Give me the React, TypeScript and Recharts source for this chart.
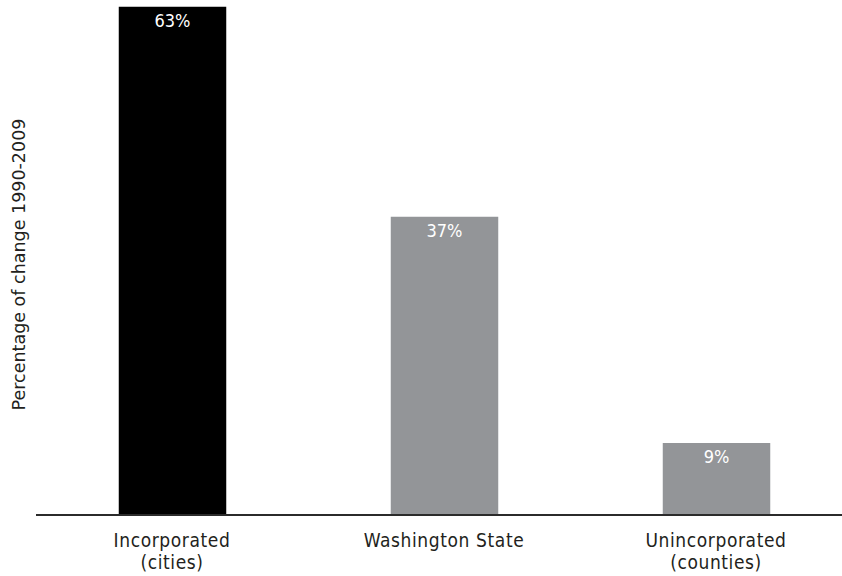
import React from "react";
import { BarChart, Bar, XAxis, YAxis, Cell, LabelList, Label } from "recharts";

// Population change by jurisdiction type, 1990-2009 (percent)
const categories = ["Incorporated\n(cities)", "Washington State", "Unincorporated\n(counties)"];
const changePct = [63, 37, 9];
const barColors = ["#000000", "#939598", "#939598"];
const yAxisTitle = "Percentage of change 1990-2009";

const data = categories.map((name, i) => ({ name, value: changePct[i] }));

const CONDENSED = "'DejaVu Sans Condensed', 'DejaVu Sans', sans-serif";
const TEXT_COLOR = "#231f20";

const CategoryTick = (props: any) => {
  const { x, y, payload } = props;
  const lines = String(payload.value).split("\n");
  return (
    <text
      x={x}
      y={y}
      textAnchor="middle"
      fill={TEXT_COLOR}
      fontFamily={CONDENSED}
      fontSize={19}
      letterSpacing={0.6}
    >
      {lines.map((line, i) => (
        <tspan key={i} x={x} dy={i === 0 ? 31.5 : 22}>
          {line}
        </tspan>
      ))}
    </text>
  );
};

const AxisTitle = (props: any) => {
  const vb = props.viewBox || { x: 0, y: 0, width: 0, height: 0 };
  const cx = vb.x + vb.width - 11;
  const cy = vb.y + vb.height / 2 + 4;
  return (
    <text
      transform={`translate(${cx}, ${cy}) rotate(-90)`}
      textAnchor="middle"
      fill={TEXT_COLOR}
      fontFamily="'DejaVu Sans', sans-serif"
      fontSize={17.5}
    >
      {yAxisTitle}
    </text>
  );
};

export default function App() {
  return (
    <div
      style={{
        position: "fixed",
        left: 0,
        top: 0,
        width: 842,
        height: 576,
        overflow: "hidden",
        background: "#ffffff",
      }}
    >
      <BarChart
        width={852}
        height={576}
        data={data}
        margin={{ top: 6, right: 0, bottom: 0, left: 0 }}
        barCategoryGap={0}
      >
        <YAxis
          width={36}
          domain={[0, 63]}
          axisLine={false}
          tickLine={false}
          tick={false}
        >
          <Label content={<AxisTitle />} />
        </YAxis>
        <XAxis
          dataKey="name"
          height={61}
          interval={0}
          tickLine={false}
          tickSize={0}
          tickMargin={0}
          axisLine={{ stroke: "#2b2b2b", strokeWidth: 2 }}
          tick={<CategoryTick />}
        />
        <Bar
          dataKey="value"
          barSize={109}
          stroke="#ffffff"
          strokeWidth={1.5}
          isAnimationActive={false}
        >
          {data.map((d, i) => (
            <Cell key={d.name} fill={barColors[i]} />
          ))}
          <LabelList
            dataKey="value"
            position="insideTop"
            offset={8}
            fill="#ffffff"
            fontFamily={CONDENSED}
            fontSize={18}
            formatter={(v: any) => `${v}%`}
          />
        </Bar>
      </BarChart>
    </div>
  );
}
